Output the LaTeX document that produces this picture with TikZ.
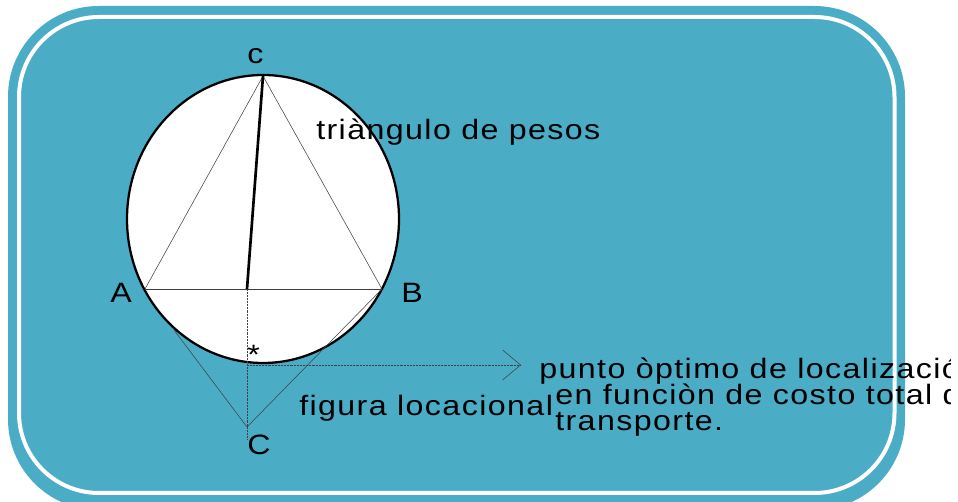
\documentclass[tikz,border=0pt]{standalone}
\usepackage{fontspec}
\setmainfont[FakeStretch=1.15,LetterSpace=5]{Liberation Sans}
\usetikzlibrary{arrows.meta}
\definecolor{panelblue}{HTML}{4BACC6}
\tikzset{
  label/.style={inner sep=0pt,anchor=base west,font=\fontsize{21}{23}\selectfont},
  thinline/.style={draw=black!75,line width=0.4pt},
  dotline/.style={draw=black!75,line width=0.6pt,dash pattern=on 0.6pt off 0.5pt}
}
\begin{document}
\begin{tikzpicture}[x=0.75pt,y=-0.75pt]
      \useasboundingbox (0,0) rectangle (958,502);
      \clip (0,0) rectangle (950,502);
      \fill[panelblue,rounded corners=68pt] (8,6) rectangle (905,510);
      \draw[white,line width=3pt,rounded corners=60pt] (19,17) rectangle (894.5,493);
      \draw[fill=white,line width=1.7pt] (263,219) ellipse [x radius=136,y radius=144];
      \draw
        (263,76) coordinate (c)
        (145,289) coordinate (a)
        (382,289) coordinate (b)
        (247,289) coordinate (m)
        (247,365) coordinate (p)
        (521,365) coordinate (q)
        (247,427) coordinate (d)
        (247,440) coordinate (e)
        (174,330) coordinate (f);
      \begin{scope}[thinline]
        \draw (a) to (c);
        \draw (c) to (b);
        \draw (a) to (b);
        \draw (f) to (d);
        \draw (d) to (b);
      \end{scope}
      \draw[line width=2pt] (m) to (c);
      \draw[dotline] (m) to (e);
      \draw[dotline,-{Straight Barb[length=13.5pt,width=22.5pt,line width=0.4pt]}] (p) to (q);
      \node[label] (clabel) at (247,64) {c};
      \node[label] (alabel) at (110,303) {A};
      \node[label] (blabel) at (401,303) {B};
      \node[label] (dlabel) at (247,455) {C};
      \node[label] (star) at (247,365) {*};
      \node[label] (pesos) at (316,140) {triàngulo de pesos};
      \node[label] (figura) at (299,416) {figura locacional};
      \node[label] (punto) at (539,379) {punto òptimo de localización};
      \node[label] (funcion) at (555,405) {en funciòn de costo total de};
      \node[label] (transporte) at (555,431) {transporte.};
    \end{tikzpicture}
\end{document}
